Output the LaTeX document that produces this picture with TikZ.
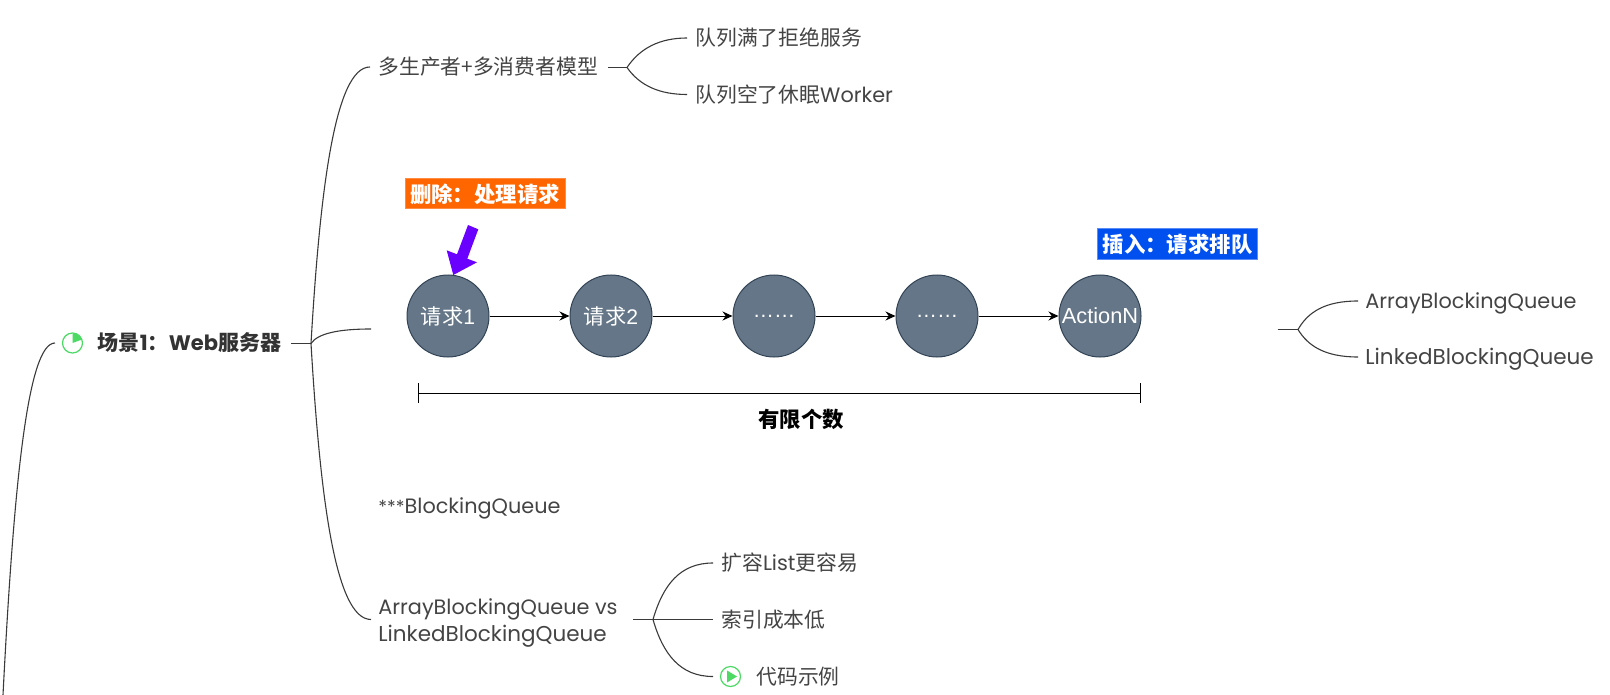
\documentclass[tikz,border=0pt]{standalone}
\usepackage{fontspec}
\setmainfont{Poppins}
\newfontfamily\zh{Noto Sans CJK SC}
\newfontfamily\arial{Liberation Sans}
\usetikzlibrary{arrows.meta}
\definecolor{txt}{HTML}{444444}
\definecolor{strongtxt}{HTML}{333333}
\definecolor{branch}{HTML}{3A3A3A}
\definecolor{circfill}{HTML}{647687}
\definecolor{circline}{HTML}{314354}
\definecolor{orangebox}{HTML}{FF6600}
\definecolor{bluebox}{HTML}{0050EF}
\definecolor{purplearrow}{HTML}{6A00FF}
\definecolor{icongreen}{HTML}{4CD964}
\newcommand{\widertext}{\fontsize{10.75}{13.6}\selectfont}
\tikzset{
  x=0.5pt,y=-0.5pt,
  topic/.style={anchor=west,inner xsep=4pt,inner ysep=0pt,text=txt,font=\fontsize{10.4}{13.6}\selectfont,align=left},
  maintopic/.style={anchor=west,inner xsep=4pt,inner ysep=0pt,text=strongtxt,font=\fontsize{10.5}{13.6}\selectfont\bfseries},
  branchline/.style={draw=branch,line width=0.55pt},
  qnode/.style={circle,draw=circline,fill=circfill,line width=0.5pt,minimum size=41pt,inner sep=0pt,text=white,font=\arial\fontsize{10.6}{12}\selectfont},
  qarrow/.style={draw=black,line width=0.5pt,-{Stealth[length=5pt,width=4.5pt]}},
  tagbox/.style={minimum width=80pt,minimum height=15pt,inner sep=0pt,text=white,font=\zh\bfseries\fontsize{10.7}{12}\selectfont},
  icon/.style={circle,draw=icongreen,line width=0.6pt,minimum size=10pt,inner sep=0pt}
}
\begin{document}
\begin{tikzpicture}
\useasboundingbox (0,0) rectangle (1610,695);
% root
\node[icon] (ic1) at (72.5,343) {};
\fill[icongreen] (ic1.center) -- (72.5,333) .. controls (76.5,333) and (80,335.5) .. (81.9,339.6) -- cycle;
\node[maintopic] (scene) at (89.5,343) {{\zh 场景}1{\zh ：}Web{\zh 服务器}};
\coordinate (rootL) at (55,343);
\coordinate (rootB) at (3,695);
\draw[branchline] (rootB) .. controls (14,480) and (28,343) .. (rootL);
% first level
\coordinate (s0) at (291,343.5);
\coordinate (j0) at (311,343.5);
\node[topic] (t1) at (370,67) {{\zh 多生产者+多消费者模型}};
\coordinate (t2) at (371,329);
\node[topic] (t3) at (370,508) {{\fontsize{9}{13.6}\selectfont ***}BlockingQueue};
\node[topic] (t4) at (370,623) {ArrayBlockingQueue vs\\{\widertext LinkedBlockingQueue}};
\coordinate (t4c) at (371,619.5);
\draw[branchline] (s0) -- (j0);
\draw[branchline] (j0) .. controls (320,190) and (335,67) .. (t1.west);
\draw[branchline] (j0) .. controls (318,333) and (340,329) .. (t2);
\draw[branchline] (j0) .. controls (320,495) and (335,619.5) .. (t4c);
% t1 children
\coordinate (s1) at (608,67.5);
\coordinate (j1) at (627,67.5);
\node[topic] (a1) at (687,38) {{\zh 队列满了拒绝服务}};
\node[topic] (a2) at (687,94.5) {{\zh 队列空了休眠}Worker};
\draw[branchline] (s1) -- (j1);
\draw[branchline] (j1) .. controls (640,48) and (660,38) .. (a1.west);
\draw[branchline] (j1) .. controls (640,86) and (660,94.5) .. (a2.west);
% queue
\node[qnode] (q1) at (448,316) {{\zh 请求}1};
\node[qnode] (q2) at (611,316) {{\zh 请求}2};
\node[qnode] (q3) at (774,316) {……};
\node[qnode] (q4) at (937,316) {……};
\node[qnode,font=\arial\fontsize{10.9}{12}\selectfont] (q5) at (1100,316) {ActionN};
\draw[qarrow] (q1) -- (q2);
\draw[qarrow] (q2) -- (q3);
\draw[qarrow] (q3) -- (q4);
\draw[qarrow] (q4) -- (q5);
\node[tagbox,fill=orangebox,draw=orangebox!75!white,line width=0.5pt] (del) at (485,194) {\raisebox{-0.7pt}{删除：处理请求}};
\node[tagbox,fill=bluebox,draw=bluebox!65!white,line width=0.5pt] (ins) at (1177.5,244) {\raisebox{-0.4pt}{插入：请求排队}};
\fill[purplearrow] (468,225) -- (478.3,229.3) -- (467.3,258.7) -- (477,262.3) -- (453.3,275) -- (446.7,250.3) -- (457,254.3) -- cycle;
% bracket
\coordinate (bl) at (418.5,393);
\coordinate (br) at (1140.5,393);
\coordinate (blt) at (418.5,383);
\coordinate (blb) at (418.5,403);
\coordinate (brt) at (1140.5,383);
\coordinate (brb) at (1140.5,403);
\draw[black,line width=0.5pt] (bl) -- (br);
\draw[black,line width=0.5pt] (blt) -- (blb);
\draw[black,line width=0.5pt] (brt) -- (brb);
\node[inner sep=0pt,text=black,font=\zh\bfseries\fontsize{10.7}{12}\selectfont] (lim) at (801,419) {有限个数};
% right branch
\coordinate (s2) at (1277.5,329.5);
\coordinate (j2) at (1298,329.5);
\node[topic] (b1) at (1357,303) {ArrayBlockingQueue};
\node[topic] (b2) at (1357,359) {\widertext LinkedBlockingQueue};
\coordinate (b1c) at (1358,301);
\coordinate (b2c) at (1358,357);
\draw[branchline] (s2) -- (j2);
\draw[branchline] (j2) .. controls (1308,312) and (1325,301) .. (b1c);
\draw[branchline] (j2) .. controls (1308,346) and (1325,357) .. (b2c);
% t4 children
\coordinate (s3) at (633,619.5);
\coordinate (j3) at (653,619.5);
\node[topic] (c1) at (713,563) {{\zh 扩容}List{\zh 更容易}};
\node[topic] (c2) at (713,619.5) {{\zh 索引成本低}};
\coordinate (c3) at (713,676.5);
\node[icon] (ic2) at (730.5,676.5) {};
\fill[icongreen] (727,670.5) -- (737,676.5) -- (727,682.5) -- cycle;
\node[topic] (c3t) at (748,676.5) {{\zh 代码示例}};
\draw[branchline] (s3) -- (c2.west);
\draw[branchline] (j3) .. controls (663,585) and (680,563) .. (c1.west);
\draw[branchline] (j3) .. controls (663,654) and (680,676.5) .. (c3);
\end{tikzpicture}
\end{document}
